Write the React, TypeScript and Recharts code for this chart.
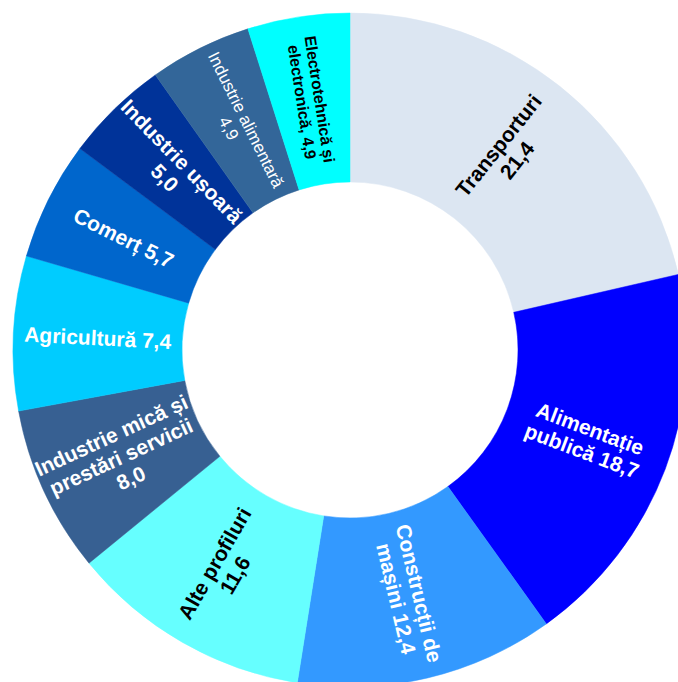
import { PieChart, Pie, Cell } from 'recharts';

const categories = [
  'Transporturi',
  'Alimentație publică',
  'Construcții de mașini',
  'Alte profiluri',
  'Industrie mică și prestări servicii',
  'Agricultură',
  'Comerț',
  'Industrie ușoară',
  'Industrie alimentară',
  'Electrotehnică și electronică',
];

const shares = [21.4, 18.7, 12.4, 11.6, 8.0, 7.4, 5.7, 5.0, 4.9, 4.9];

// label lines, {v} is replaced by the formatted value
const labelLines = [
  ['Transporturi', '{v}'],
  ['Alimentație', 'publică {v}'],
  ['Construcții de', 'mașini {v}'],
  ['Alte profiluri', '{v}'],
  ['Industrie mică și', 'prestări servicii', '{v}'],
  ['Agricultură {v}'],
  ['Comerț {v}'],
  ['Industrie ușoară', '{v}'],
  ['Industrie alimentară', '{v}'],
  ['Electrotehnică și', 'electronică, {v}'],
];

const COLORS = [
  '#dce6f2',
  '#0000ff',
  '#3399ff',
  '#66ffff',
  '#376092',
  '#00ccff',
  '#0066cc',
  '#003399',
  '#336699',
  '#00ffff',
];

const TEXT_COLORS = [
  '#000', '#fff', '#fff', '#000', '#fff',
  '#fff', '#fff', '#fff', '#fff', '#000',
];

const FONT = '"Liberation Sans", Arial, sans-serif';

const data = categories.map((name, i) => ({ name, value: shares[i] }));

const fmt = (v: number) => v.toFixed(1).replace('.', ',');

const RAD = Math.PI / 180;

function SliceLabel(props: any) {
  const { cx, cy, midAngle, innerRadius, outerRadius, index, value } = props;
  const r = (innerRadius + outerRadius) / 2;
  const x = cx + r * Math.cos(-midAngle * RAD);
  const y = cy + r * Math.sin(-midAngle * RAD);
  let rot = -midAngle;
  while (rot > 90) rot -= 180;
  while (rot <= -90) rot += 180;

  let size = 21;
  let weight: number | string = 'bold';
  if (index === 8) {
    size = 17;
    weight = 'normal';
  } else if (index === 9) {
    size = 16;
  }
  const lh = size * 1.12;
  const lines = labelLines[index].map((l) => l.replace('{v}', fmt(value)));
  const first = -((lines.length - 1) / 2) * lh;

  return (
    <text
      x={x}
      y={y}
      transform={`rotate(${rot}, ${x}, ${y})`}
      textAnchor="middle"
      dominantBaseline="central"
      fill={TEXT_COLORS[index]}
      fontFamily={FONT}
      fontSize={size}
      fontWeight={weight}
    >
      {lines.map((l, i) => (
        <tspan key={i} x={x} dy={i === 0 ? first : lh}>
          {l}
        </tspan>
      ))}
    </text>
  );
}

export default function App() {
  return (
    <div style={{ position: 'absolute', left: 0, top: 0, background: '#fff' }}>
      <PieChart width={678} height={682} margin={{ top: 0, right: 0, bottom: 0, left: 0 }}>
        <Pie
          data={data}
          dataKey="value"
          nameKey="name"
          cx={350}
          cy={350}
          innerRadius={168}
          outerRadius={337}
          startAngle={90}
          endAngle={-270}
          label={SliceLabel}
          labelLine={false}
          isAnimationActive={false}
        >
          {data.map((d, i) => (
            <Cell key={d.name} fill={COLORS[i]} stroke={COLORS[i]} strokeWidth={0.5} />
          ))}
        </Pie>
      </PieChart>
    </div>
  );
}
